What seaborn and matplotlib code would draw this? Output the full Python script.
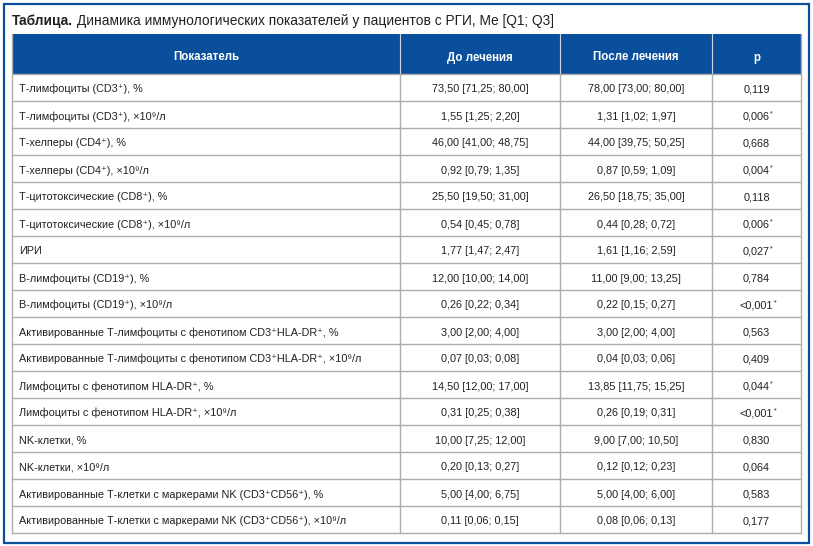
import matplotlib
matplotlib.use('Agg')
import seaborn as sns
from matplotlib import pyplot as plt
from matplotlib import font_manager
from matplotlib.patches import Rectangle

# table content
title_bold = 'Таблица.'
title_rest = ' Динамика иммунологических показателей у пациентов с РГИ, Me [Q1; Q3]'
headers = ['Показатель', 'До лечения', 'После лечения', 'p']
indicators = [
    'Т-лимфоциты (CD3⁺), %',
    'Т-лимфоциты (CD3⁺), ×10⁹/л',
    'Т-хелперы (CD4⁺), %',
    'Т-хелперы (CD4⁺), ×10⁹/л',
    'Т-цитотоксические (CD8⁺), %',
    'Т-цитотоксические (CD8⁺), ×10⁹/л',
    'ИРИ',
    'B-лимфоциты (CD19⁺), %',
    'B-лимфоциты (CD19⁺), ×10⁹/л',
    'Активированные Т-лимфоциты с фенотипом CD3⁺HLA-DR⁺, %',
    'Активированные Т-лимфоциты с фенотипом CD3⁺HLA-DR⁺, ×10⁹/л',
    'Лимфоциты с фенотипом HLA-DR⁺, %',
    'Лимфоциты с фенотипом HLA-DR⁺, ×10⁹/л',
    'NK-клетки, %',
    'NK-клетки, ×10⁹/л',
    'Активированные Т-клетки с маркерами NK (CD3⁺CD56⁺), %',
    'Активированные Т-клетки с маркерами NK (CD3⁺CD56⁺), ×10⁹/л',
]
before = ['73,50 [71,25; 80,00]', '1,55 [1,25; 2,20]', '46,00 [41,00; 48,75]', '0,92 [0,79; 1,35]',
          '25,50 [19,50; 31,00]', '0,54 [0,45; 0,78]', '1,77 [1,47; 2,47]', '12,00 [10,00; 14,00]',
          '0,26 [0,22; 0,34]', '3,00 [2,00; 4,00]', '0,07 [0,03; 0,08]', '14,50 [12,00; 17,00]',
          '0,31 [0,25; 0,38]', '10,00 [7,25; 12,00]', '0,20 [0,13; 0,27]', '5,00 [4,00; 6,75]',
          '0,11 [0,06; 0,15]']
after = ['78,00 [73,00; 80,00]', '1,31 [1,02; 1,97]', '44,00 [39,75; 50,25]', '0,87 [0,59; 1,09]',
         '26,50 [18,75; 35,00]', '0,44 [0,28; 0,72]', '1,61 [1,16; 2,59]', '11,00 [9,00; 13,25]',
         '0,22 [0,15; 0,27]', '3,00 [2,00; 4,00]', '0,04 [0,03; 0,06]', '13,85 [11,75; 15,25]',
         '0,26 [0,19; 0,31]', '9,00 [7,00; 10,50]', '0,12 [0,12; 0,23]', '5,00 [4,00; 6,00]',
         '0,08 [0,06; 0,13]']
p_values = ['0,119', '0,006', '0,668', '0,004', '0,118', '0,006', '0,027', '0,784', '<0,001',
            '0,563', '0,409', '0,044', '<0,001', '0,830', '0,064', '0,583', '0,177']
significant = [False, True, False, True, False, True, True, False, True,
               False, False, True, True, False, False, False, False]

sns.set_theme(style='white', context='paper')
installed = {f.name for f in font_manager.fontManager.ttflist}
main_font = 'Liberation Sans Narrow' if 'Liberation Sans Narrow' in installed else 'Liberation Sans'
plt.rcParams['font.family'] = main_font
mixed = [main_font, 'DejaVu Sans']

blue = '#0a4f9c'
grid = '#adadad'
ink = '#231f20'
body_fs = 7.8

fig = plt.figure(figsize=(8.13, 5.46), dpi=100)
ax = fig.add_axes([0, 0, 1, 1])
ax.set_xlim(0, 813)
ax.set_ylim(546, 0)
ax.axis('off')

# outer frame
ax.add_patch(Rectangle((3.5, 3.5), 805, 539, fill=False, edgecolor=blue, linewidth=1.6))

# title
t = ax.text(12, 24.5, title_bold, fontsize=9.9, fontweight='bold', color=ink, va='baseline',
            family='Liberation Sans')
ax.annotate(title_rest, xy=(1, 0), xycoords=t, va='bottom', ha='left', fontsize=9.9, color=ink,
            family='Liberation Sans')

col_edges = [12, 400, 560, 712, 801]
top, head_h, row_h = 34, 40, 27

# header
ax.add_patch(Rectangle((col_edges[0], top), col_edges[-1] - col_edges[0], head_h,
                       facecolor=blue, edgecolor='none'))
for i, h in enumerate(headers):
    cx = (col_edges[i] + col_edges[i + 1]) / 2
    ax.text(cx, top + 26.5, h, ha='center', va='baseline', color='white',
            fontsize=8.3, fontweight='bold')
for x in col_edges[1:-1]:
    ax.plot([x, x], [top, top + head_h], color='#d0d8e8', linewidth=0.8)

n = len(indicators)
y0 = top + head_h
y_end = y0 + n * row_h
# grid
ax.plot([col_edges[0], col_edges[0]], [top, y_end], color=grid, linewidth=1)
ax.plot([col_edges[-1], col_edges[-1]], [top, y_end], color=grid, linewidth=1)
for x in col_edges[1:-1]:
    ax.plot([x, x], [y0, y_end], color=grid, linewidth=1)
for r in range(n + 1):
    y = y0 + r * row_h
    ax.plot([col_edges[0], col_edges[-1]], [y, y], color=grid, linewidth=1)

for r in range(n):
    by = y0 + r * row_h + 18.5
    ax.text(col_edges[0] + 7, by, indicators[r], ha='left', va='baseline',
            fontsize=body_fs, color=ink, family=mixed)
    ax.text((col_edges[1] + col_edges[2]) / 2, by, before[r], ha='center', va='baseline',
            fontsize=body_fs, color=ink)
    ax.text((col_edges[2] + col_edges[3]) / 2, by, after[r], ha='center', va='baseline',
            fontsize=body_fs, color=ink)
    pt = ax.text((col_edges[3] + col_edges[4]) / 2, by, p_values[r], ha='center',
                 va='baseline', fontsize=body_fs, color=ink)
    if significant[r]:
        ax.annotate('*', xy=(1, 1), xycoords=pt, ha='left', va='top', fontsize=5, color=ink,
                    xytext=(0.3, 0.5), textcoords='offset points')

fig.savefig('out.png', dpi=100)
